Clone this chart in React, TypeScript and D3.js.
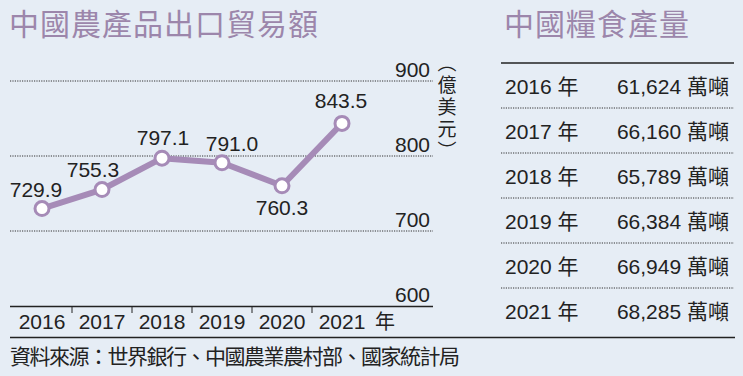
import React from "react";
import * as d3 from "d3";

const years = ["2016", "2017", "2018", "2019", "2020", "2021"];
const exportValues = [729.9, 755.3, 797.1, 791.0, 760.3, 843.5];
const valueLabels = ["729.9", "755.3", "797.1", "791.0", "760.3", "843.5"];
const yTicks = [600, 700, 800, 900];
const grainYears = ["2016 年", "2017 年", "2018 年", "2019 年", "2020 年", "2021 年"];
const grainValues = ["61,624 萬噸", "66,160 萬噸", "65,789 萬噸", "66,384 萬噸", "66,949 萬噸", "68,285 萬噸"];
const unitLabel = "（億美元）";

// label placement offsets (style, not data)
const labelDx = [-6, -9, 1, 10, 0, -1];
const labelDy = [-12, -13, -13, -12, 29, -15];

const W = 743;
const H = 376;
const BG = "#e6edf5";
const PURPLE = "#a68bb7";
const TITLE = "#9c86ab";
const TEXT = "#222";
const FONT = "'Liberation Sans', Arial, 'Noto Sans CJK TC', sans-serif";
const CJK = "'Noto Sans CJK TC', 'Noto Sans CJK SC', sans-serif";

export default function App() {
  const x = d3.scaleBand<string>().domain(years).range([12, 372]);
  const y = d3.scaleLinear().domain([600, 900]).range([306, 81]);
  const cx = (d: string) => (x(d) as number) + x.bandwidth() / 2;
  const line = d3
    .line<number>()
    .x((_, i) => cx(years[i]))
    .y((v) => y(v));

  const rowY = d3.scaleBand<string>().domain(grainYears).range([63, 333]);

  return (
    <svg width={W} height={H} style={{ position: "absolute", left: 0, top: 0, background: BG }}>
      <rect x={0} y={0} width={W} height={H} fill={BG} />
      {/* titles */}
      <text x={9} y={35} fontSize={30} fill={TITLE} fontFamily={CJK} style={{ letterSpacing: "1px" }}>
        中國農產品出口貿易額
      </text>
      <text x={504} y={35} fontSize={30} fill={TITLE} fontFamily={CJK} style={{ letterSpacing: "1px" }}>
        中國糧食產量
      </text>

      {/* gridlines */}
      {yTicks.slice(1).map((t) => (
        <line key={t} x1={10} x2={433} y1={y(t)} y2={y(t)} stroke="#333" strokeWidth={1} strokeDasharray="1.2,1.2" />
      ))}
      {yTicks.map((t) => (
        <text key={"l" + t} x={430} y={y(t) - 4} textAnchor="end" fontSize={21} fill={TEXT} fontFamily={FONT}>
          {t}
        </text>
      ))}
      {/* axis */}
      <line x1={10} x2={433} y1={306.5} y2={306.5} stroke="#222" strokeWidth={1.5} />
      {years.slice(1).map((yr) => (
        <line key={yr} x1={x(yr) as number} x2={x(yr) as number} y1={306} y2={313} stroke="#222" strokeWidth={1} />
      ))}
      {years.map((yr) => (
        <text key={"x" + yr} x={cx(yr)} y={329} textAnchor="middle" fontSize={21} fill={TEXT} fontFamily={FONT}>
          {yr}
        </text>
      ))}
      <text x={385} y={329} textAnchor="middle" fontSize={20} fill={TEXT} fontFamily={CJK}>
        年
      </text>

      {/* unit, vertical */}
      <text
        x={447}
        y={53}
        fontSize={19}
        fill={TEXT}
        fontFamily={CJK}
        style={{ writingMode: "vertical-rl", letterSpacing: "3px" }}
      >
        {unitLabel}
      </text>

      {/* line */}
      <path d={line(exportValues) || ""} fill="none" stroke={PURPLE} strokeWidth={6} strokeLinejoin="round" />
      {exportValues.map((v, i) => (
        <circle key={"c" + i} cx={cx(years[i])} cy={y(v)} r={7} fill="#fff" stroke={PURPLE} strokeWidth={3} />
      ))}
      {exportValues.map((v, i) => (
        <text
          key={"t" + i}
          x={cx(years[i]) + labelDx[i]}
          y={y(v) + labelDy[i]}
          textAnchor="middle"
          fontSize={21}
          fill={TEXT}
          fontFamily={FONT}
        >
          {valueLabels[i]}
        </text>
      ))}

      {/* table */}
      <line x1={501} x2={734} y1={63} y2={63} stroke="#222" strokeWidth={1.5} />
      {grainYears.map((g, i) => {
        const top = rowY(g) as number;
        const mid = top + rowY.bandwidth() / 2;
        return (
          <g key={g}>
            <text x={505} y={mid + 8} fontSize={21} fill={TEXT} fontFamily={FONT}>
              {g}
            </text>
            <text x={729} y={mid + 8} textAnchor="end" fontSize={21} fill={TEXT} fontFamily={FONT}>
              {grainValues[i]}
            </text>
            {i < grainYears.length - 1 && (
              <line x1={501} x2={734} y1={top + rowY.bandwidth()} y2={top + rowY.bandwidth()} stroke="#333" strokeWidth={1} strokeDasharray="1.2,1.2" />
            )}
          </g>
        );
      })}

      {/* bottom line */}
      <line x1={10} x2={735} y1={337.5} y2={337.5} stroke="#222" strokeWidth={1.5} />
      <text x={10} y={364} fontSize={21} fill={TEXT} fontFamily={CJK} style={{ letterSpacing: "-1.5px" }}>
        資料來源：世界銀行、中國農業農村部、國家統計局
      </text>
    </svg>
  );
}
